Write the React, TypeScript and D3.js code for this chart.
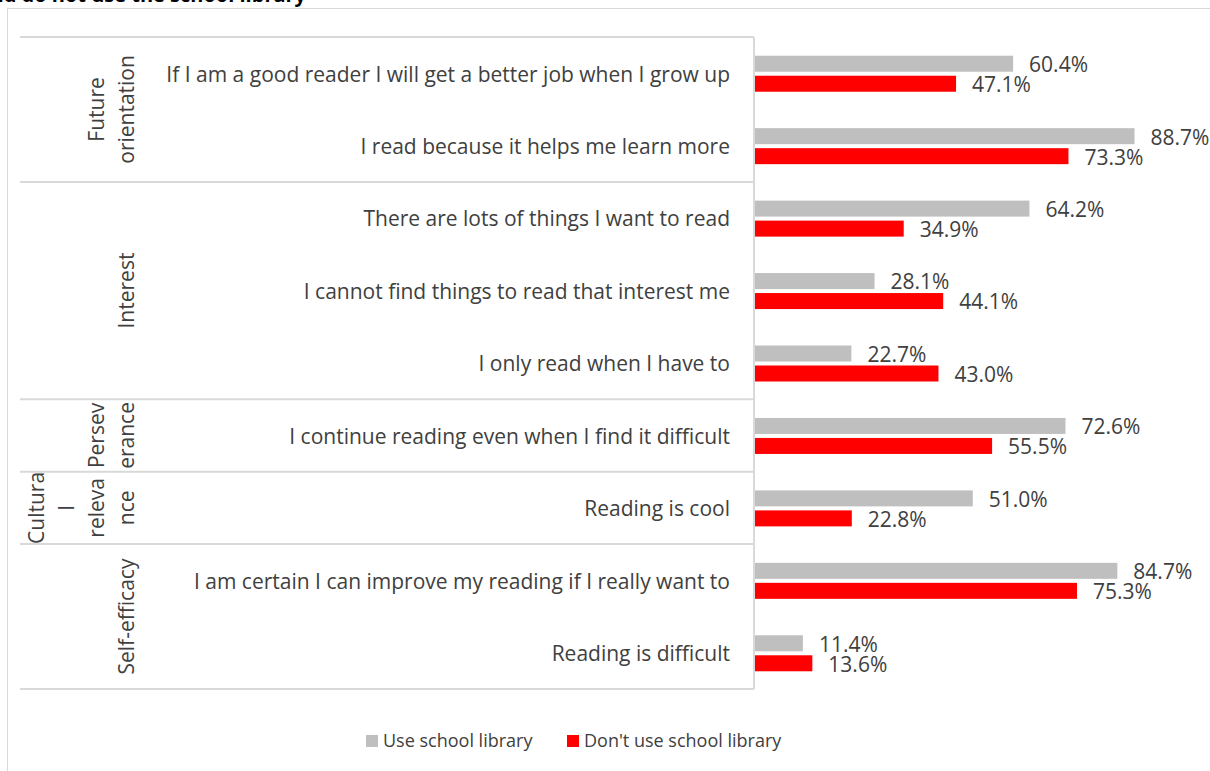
import React, { useRef, useEffect } from "react"
import * as d3 from "d3"

// chart values
const items = [
  "If I am a good reader I will get a better job when I grow up",
  "I read because it helps me learn more",
  "There are lots of things I want to read",
  "I cannot find things to read that interest me",
  "I only read when I have to",
  "I continue reading even when I find it difficult",
  "Reading is cool",
  "I am certain I can improve my reading if I really want to",
  "Reading is difficult",
]
const useLibrary = [60.4, 88.7, 64.2, 28.1, 22.7, 72.6, 51.0, 84.7, 11.4]
const noLibrary = [47.1, 73.3, 34.9, 44.1, 43.0, 55.5, 22.8, 75.3, 13.6]
const groupNames = ["Future orientation", "Interest", "Perseverance", "Cultural relevance", "Self-efficacy"]
const groupSizes = [2, 3, 1, 1, 2]
// how excel wrapped the group names in their cells
const groupLines = [["Future", "orientation"], ["Interest"], ["Persev", "erance"], ["Cultura", "l", "releva", "nce"], ["Self-efficacy"]]
const seriesNames = ["Use school library", "Don't use school library"]
const title = "Reading attitudes of pupils who do and do not use the school library"

const W = 1210
const H = 771
const font = "'Open Sans', sans-serif"
const textColor = "#404040"
const lineColor = "#d9d9d9"
const colors = ["#bfbfbf", "#ff0000"]

const App = () => {
  const ref = useRef(null)

  useEffect(() => {
    const svg = d3.select(ref.current)
    svg.selectAll("*").remove()

    const top = 37, bottom = 689, left = 20, axisX = 754

    // title, mostly scrolled out of view
    svg.append("text")
      .attr("x", 306).attr("y", 2)
      .attr("text-anchor", "end")
      .attr("font-family", font).attr("font-weight", "bold").attr("font-size", 20)
      .attr("fill", "#000")
      .text(title)

    // outer frame
    svg.append("rect")
      .attr("x", 7.5).attr("y", 8.5).attr("width", W).attr("height", H)
      .attr("fill", "none").attr("stroke", lineColor)

    const y = d3.scaleBand().domain(items).range([top, bottom])
    const x = d3.scaleLinear().domain([0, 100]).range([axisX, 1183])
    const sub = d3.scaleBand().domain(["0", "1"]).range([0, 36]).paddingInner(0.2)
    const off = (y.bandwidth() - 36) / 2 + 0.5

    // table lines for the category axis
    svg.append("line")
      .attr("x1", axisX).attr("x2", axisX).attr("y1", top).attr("y2", bottom)
      .attr("stroke", lineColor).attr("stroke-width", 2)

    let start = 0
    const bounds = [0]
    groupSizes.forEach(n => { start += n; bounds.push(start) })
    svg.selectAll("line.grp")
      .data(bounds)
      .enter()
      .append("line")
        .attr("class", "grp")
        .attr("x1", left).attr("x2", axisX)
        .attr("y1", d => top + d * y.step()).attr("y2", d => top + d * y.step())
        .attr("stroke", lineColor).attr("stroke-width", 2)

    // group labels, rotated
    groupNames.forEach((g, gi) => {
      const cy = top + (bounds[gi] + bounds[gi + 1]) / 2 * y.step()
      const lines = groupLines[gi]
      lines.forEach((ln, li) => {
        const cx = 127 - (lines.length - 1 - li) * 30
        svg.append("text")
          .attr("transform", `translate(${cx},${cy}) rotate(-90)`)
          .attr("text-anchor", "middle").attr("dy", "0.35em")
          .attr("font-family", font).attr("font-size", 21).attr("fill", textColor)
          .text(ln)
      })
    })

    // item labels
    svg.selectAll("text.item")
      .data(items)
      .enter()
      .append("text")
        .attr("class", "item")
        .attr("x", 730)
        .attr("y", d => y(d) + y.bandwidth() / 2 + 1)
        .attr("dy", "0.35em")
        .attr("text-anchor", "end")
        .attr("font-family", font).attr("font-size", 21).attr("fill", textColor)
        .text(d => d)

    // bars + value labels
    const series = [useLibrary, noLibrary]
    series.forEach((vals, si) => {
      const g = svg.append("g")
      g.selectAll("rect")
        .data(vals)
        .enter()
        .append("rect")
          .attr("x", axisX + 1)
          .attr("y", (d, i) => y(items[i]) + off + sub(String(si)))
          .attr("width", d => x(d) - axisX - 1)
          .attr("height", sub.bandwidth())
          .attr("fill", colors[si])
      g.selectAll("text")
        .data(vals)
        .enter()
        .append("text")
          .attr("x", d => x(d) + 16)
          .attr("y", (d, i) => y(items[i]) + off + sub(String(si)) + sub.bandwidth() / 2 + 1)
          .attr("dy", "0.35em")
          .attr("font-family", font).attr("font-size", 21).attr("fill", textColor)
          .text(d => d.toFixed(1) + "%")
    })

    // legend
    const legendX = [366, 567]
    seriesNames.forEach((s, i) => {
      svg.append("rect")
        .attr("x", legendX[i]).attr("y", 735).attr("width", 12).attr("height", 12)
        .attr("fill", colors[i])
      svg.append("text")
        .attr("x", legendX[i] + 17).attr("y", 741).attr("dy", "0.35em")
        .attr("font-family", font).attr("font-size", 18).attr("fill", textColor)
        .text(s)
    })
  }, [])

  return (
    <svg ref={ref} width={W} height={H} style={{ position: "absolute", left: 0, top: 0, background: "#fff" }}>
    </svg>
  )
}

export default App
